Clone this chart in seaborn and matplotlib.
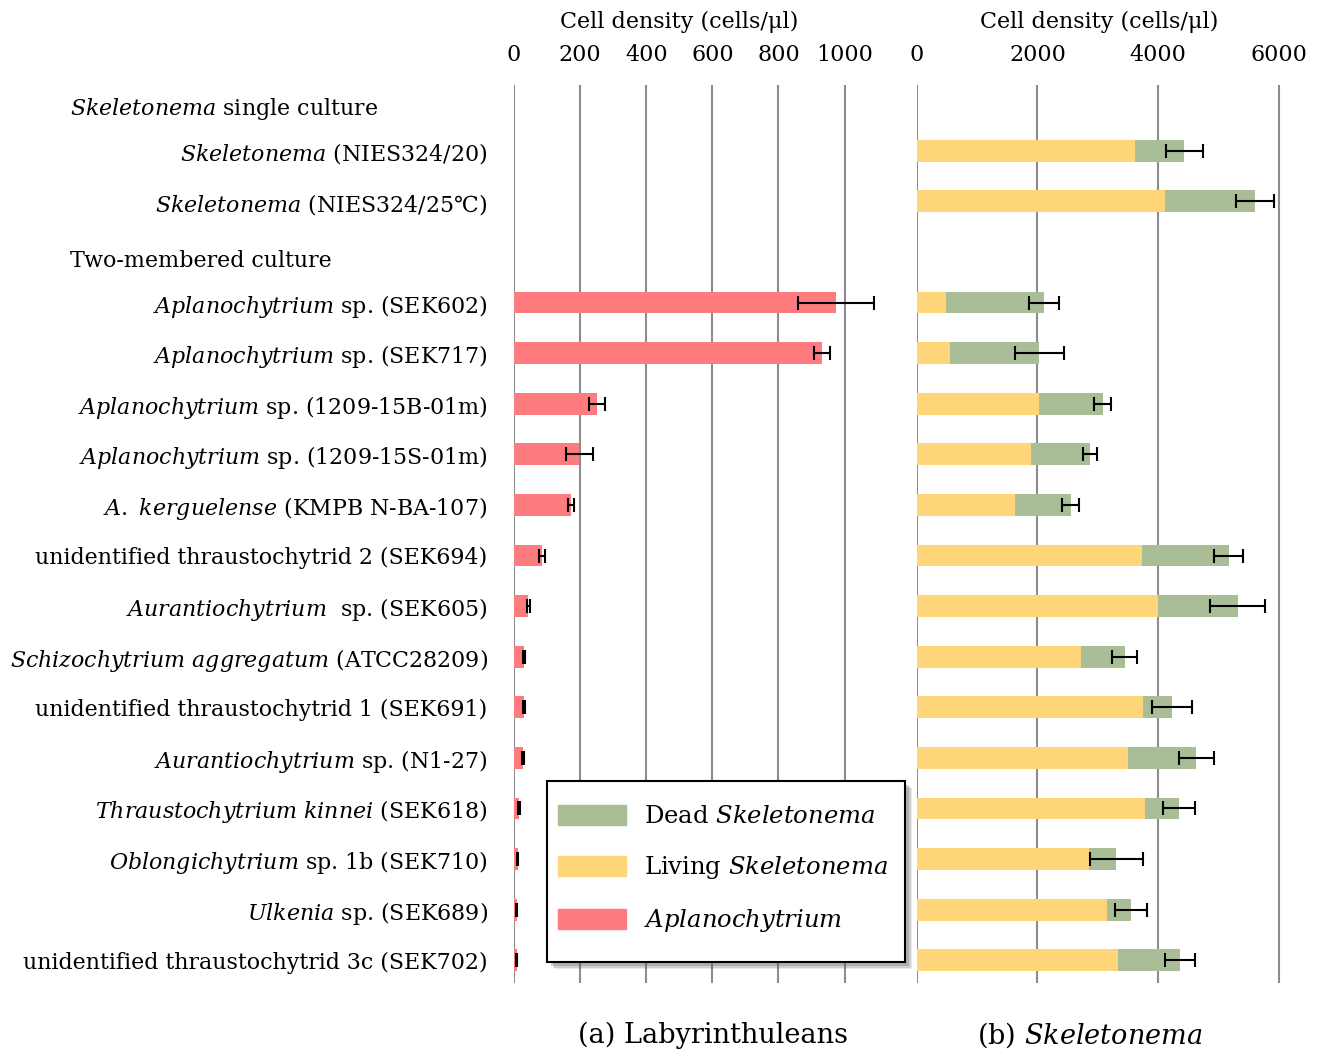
import numpy as np
import pandas as pd
import matplotlib
matplotlib.use("Agg")
import matplotlib.pyplot as plt
import matplotlib.transforms as mtransforms
from matplotlib.patches import Patch, Rectangle, Shadow
import seaborn as sns

# ---- data ----
labels = [
    r"$\mathit{Skeletonema}$ single culture",
    r"$\mathit{Skeletonema}$ (NIES324/20)",
    r"$\mathit{Skeletonema}$ (NIES324/25℃)",
    "Two-membered culture",
    r"$\mathit{Aplanochytrium}$ sp. (SEK602)",
    r"$\mathit{Aplanochytrium}$ sp. (SEK717)",
    r"$\mathit{Aplanochytrium}$ sp. (1209-15B-01m)",
    r"$\mathit{Aplanochytrium}$ sp. (1209-15S-01m)",
    r"$\mathit{A.\ kerguelense}$ (KMPB N-BA-107)",
    "unidentified thraustochytrid 2 (SEK694)",
    r"$\mathit{Aurantiochytrium}$  sp. (SEK605)",
    r"$\mathit{Schizochytrium\ aggregatum}$ (ATCC28209)",
    "unidentified thraustochytrid 1 (SEK691)",
    r"$\mathit{Aurantiochytrium}$ sp. (N1-27)",
    r"$\mathit{Thraustochytrium\ kinnei}$ (SEK618)",
    r"$\mathit{Oblongichytrium}$ sp. 1b (SEK710)",
    r"$\mathit{Ulkenia}$ sp. (SEK689)",
    "unidentified thraustochytrid 3c (SEK702)",
]
is_header = [True, False, False, True] + [False] * 14

laby = [0, 0, 0, 0, 975, 932, 250, 198, 172, 85, 43, 30, 30, 28, 15, 11, 8, 8]
laby_err = [np.nan, np.nan, np.nan, np.nan, 115, 25, 24, 40, 8, 10, 5, 3, 3, 3, 2, 2, 1, 1]

living = [0, 3610, 4110, 0, 480, 552, 2025, 1892, 1627, 3730, 3995, 2720, 3747, 3504, 3780, 2848, 3146, 3338]
total = [0, 4435, 5610, 0, 2110, 2030, 3078, 2870, 2552, 5170, 5320, 3447, 4230, 4635, 4350, 3305, 3555, 4365]
total_err = [np.nan, 312, 317, np.nan, 246, 403, 144, 113, 138, 243, 458, 207, 334, 284, 262, 442, 265, 251]

df = pd.DataFrame({"label": labels, "laby": laby, "living": living, "total": total})

RED = "#FF7C7E"
YELLOW = "#FFD57A"
GREEN = "#A9BD96"
GRID = "#8C8C8C"

sns.set_theme(style="white")
plt.rcParams["font.family"] = ["DejaVu Serif", "DejaVu Sans"]
plt.rcParams["mathtext.fontset"] = "custom"
plt.rcParams["mathtext.rm"] = "DejaVu Serif"
plt.rcParams["mathtext.it"] = "DejaVu Serif:italic"
plt.rcParams["text.color"] = "black"
plt.rcParams["xtick.color"] = "black"
plt.rcParams["ytick.color"] = "black"
plt.rcParams["axes.labelcolor"] = "black"

W, H = 1327, 1051
fig = plt.figure(figsize=(W / 100, H / 100), dpi=100)
bottom = 1 - 983 / H
height = (983 - 85) / H
ax1 = fig.add_axes([514 / W, bottom, (916.7 - 514) / W, height])
ax2 = fig.add_axes([916.7 / W, bottom, (1297 - 916.7) / W, height])

order = labels
ypos = np.arange(len(labels))

# (a) Labyrinthuleans
sns.barplot(data=df, x="laby", y="label", order=order, orient="h", color=RED,
            width=0.43, saturation=1, linewidth=0, ax=ax1)
ax1.errorbar(laby, ypos, xerr=laby_err, fmt="none", ecolor="black",
             elinewidth=1.5, capsize=5, capthick=1.5, zorder=5)

# (b) Skeletonema: dead stacked on living
sns.barplot(data=df, x="total", y="label", order=order, orient="h", color=GREEN,
            width=0.43, saturation=1, linewidth=0, ax=ax2)
sns.barplot(data=df, x="living", y="label", order=order, orient="h", color=YELLOW,
            width=0.43, saturation=1, linewidth=0, ax=ax2)
ax2.errorbar(total, ypos, xerr=total_err, fmt="none", ecolor="black",
             elinewidth=1.5, capsize=5, capthick=1.5, zorder=5)

for ax, xlim, ticks in [(ax1, (0, 1218), [0, 200, 400, 600, 800, 1000]),
                        (ax2, (0, 6300), [0, 2000, 4000, 6000])]:
    ax.set_xlim(*xlim)
    ax.set_ylim(17.45, -0.30)
    ax.set_xticks(ticks)
    ax.xaxis.tick_top()
    ax.xaxis.set_label_position("top")
    ax.tick_params(axis="x", length=0, pad=14, labelsize=16)
    ax.grid(axis="x", color=GRID, linewidth=1.5)
    ax.set_axisbelow(True)
    for s in ax.spines.values():
        s.set_visible(False)
    ax.set_xlabel("Cell density (cells/μl)", fontsize=16)
    ax.set_facecolor("none")

ax1.xaxis.set_label_coords(0.41, 1.064)
ax2.xaxis.set_label_coords(0.48, 1.064)

# y labels
ax1.set_ylabel("")
ax2.set_ylabel("")
ax2.set_yticks([])
ax1.set_yticks(ypos)
ax1.set_yticklabels([("" if h else l) for l, h in zip(labels, is_header)], fontsize=15.9)
ax1.tick_params(axis="y", length=0, pad=19)

trans = mtransforms.blended_transform_factory(fig.transFigure, ax1.transData)
for l, h, y in zip(labels, is_header, ypos):
    if h:
        ax1.text(70 / W, y + 0.18, l, transform=trans, ha="left", va="center", fontsize=15.9)

# legend box with a soft shadow
box = Rectangle((547 / W, 1 - 962 / H), (905 - 547) / W, (962 - 781) / H,
                transform=fig.transFigure, facecolor="white", edgecolor="black",
                linewidth=1.5, zorder=3)
for k, a in [(5, 0.12), (4, 0.18), (3, 0.25)]:
    sh = Shadow(box, k / W, -k / H, zorder=2.9)
    sh.set_facecolor("#555555")
    sh.set_edgecolor("none")
    sh.set_alpha(a)
    fig.add_artist(sh)
fig.add_artist(box)

handles = [Patch(color=GREEN, label=r"Dead $\mathit{Skeletonema}$"),
           Patch(color=YELLOW, label=r"Living $\mathit{Skeletonema}$"),
           Patch(color=RED, label=r"$\mathit{Aplanochytrium}$")]
leg = fig.legend(handles=handles, loc="upper left",
                 bbox_to_anchor=(558 / W, 1 - 805 / H), bbox_transform=fig.transFigure,
                 fontsize=17.5, frameon=False,
                 handlelength=2.8, handleheight=0.9, labelspacing=1.07,
                 borderpad=0, handletextpad=0.75, borderaxespad=0)
leg.set_zorder(4)

fig.text(713 / W, 1 - 1035 / H, "(a) Labyrinthuleans", ha="center", va="center", fontsize=19.5)
fig.text(1090 / W, 1 - 1035 / H, r"(b) $\mathit{Skeletonema}$", ha="center", va="center", fontsize=19.5)

fig.savefig("out.png", dpi=100, facecolor="white")
